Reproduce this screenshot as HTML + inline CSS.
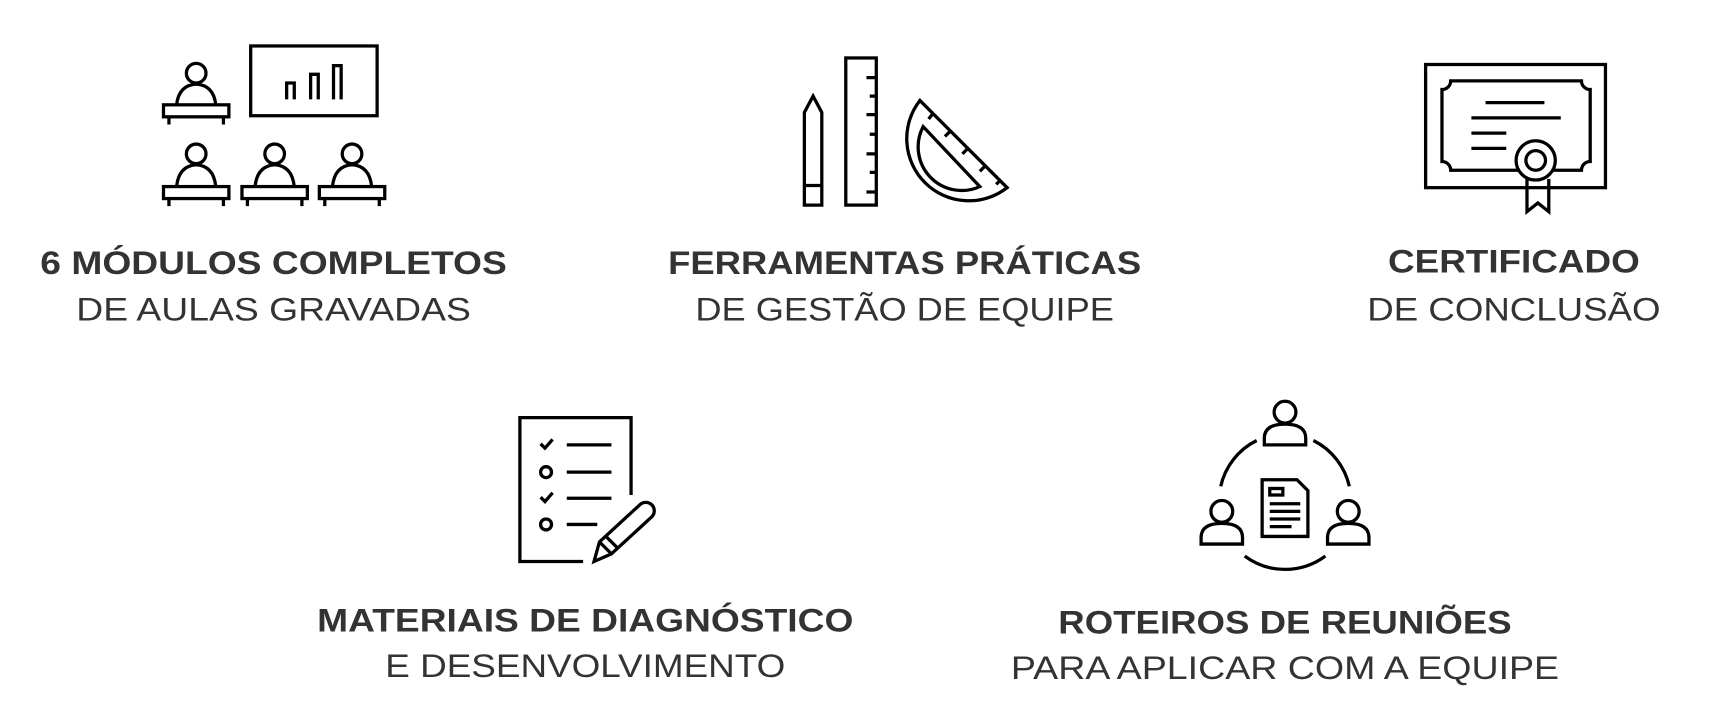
<!DOCTYPE html>
<html><head><meta charset="utf-8"><style>
html,body{margin:0;padding:0;background:#fff;}
svg{display:block;}
text{font-family:"Liberation Sans",sans-serif;fill:#333;text-anchor:middle;}
.b{font-weight:bold;font-size:30px;}
.r{font-size:30px;}
</style></head><body>
<svg width="1709" height="723" viewBox="0 0 1568 663" xmlns="http://www.w3.org/2000/svg">
<g fill="none" stroke="#000" stroke-width="3" stroke-linejoin="miter">
<!-- Icon 1 -->
<circle cx="180" cy="67" r="9"/>
<path d="M162 96 Q164 78 180 77 Q196 78 198 96"/>
<rect x="150" y="96" width="60" height="11"/>
<path d="M155 107V114M205 107V114"/>
<rect x="230" y="42" width="116" height="64"/>
<path d="M263 91V76H270V91M285 91V68H292V91M306 91V60H313V91"/>
<g id="st">
<circle cx="180" cy="141" r="9"/>
<path d="M162 171 Q164 152 180 151 Q196 152 198 171"/>
<rect x="150" y="171" width="60" height="11"/>
<path d="M155 182V189M205 182V189"/>
</g>
<use href="#st" x="72"/>
<use href="#st" x="143"/>
<!-- Icon 2 -->
<path d="M738 188V103L746 88L754 103V188ZM738 170H754"/>
<rect x="776" y="53" width="28" height="135"/>
<path d="M795 71H804M798 88H804M795 105H804M798 123H804M795 141H804M798 158H804M795 176H804"/>
<path d="M844 92 A57 57 0 0 0 924 172 Z"/>
<path d="M847 116 A40 40 0 0 0 899 171 Z"/>
<path d="M856 104L852 109M872 120L867 125M888 136L883 141M904 152L899 157M918 165L914 169"/>
<!-- Icon 3 -->
<rect x="1308" y="59" width="165" height="113"/>
<path d="M1331 74H1451A8 8 0 0 0 1459 82V148A8 8 0 0 0 1451 156H1331A8 8 0 0 0 1323 148V82A8 8 0 0 0 1331 74Z"/>
<path d="M1363 94H1417M1350 108H1432M1350 122H1382M1350 136H1382"/>
<circle cx="1409" cy="147" r="18" fill="#fff"/>
<circle cx="1409" cy="147" r="9"/>
<path d="M1401 164V194L1411 186L1421 194V164"/>
<!-- Icon 4 -->
<path d="M535 515H477V383H579V454"/>
<path d="M496 407L500 411L507 403M496 456L500 460L507 452"/>
<circle cx="501" cy="433" r="5"/><circle cx="501" cy="481" r="5"/>
<path d="M520 408H561M520 433H561M520 457H561M520 481H548"/>
<path d="M545 515L550 497L587 463A6 6 0 0 1 598 474L561 508Z M550 497L561 508 M556 492L566 502"/>
<!-- Icon 5 -->
<circle cx="1179" cy="378" r="10"/>
<path d="M1160 408V402Q1160 389 1179 389Q1198 389 1198 402V408Z"/>
<circle cx="1121" cy="469" r="10"/>
<path d="M1102 499V493Q1102 480 1121 480Q1140 480 1140 493V499Z"/>
<circle cx="1237" cy="469" r="10"/>
<path d="M1218 499V493Q1218 480 1237 480Q1256 480 1256 493V499Z"/>
<path d="M1153 404A62 62 0 0 0 1120 446M1205 404A62 62 0 0 1 1238 446M1142 510A62 62 0 0 0 1216 510"/>
<path d="M1158 440H1190L1200 450V492H1158Z"/>
<rect x="1165" y="448" width="12" height="6"/>
<path d="M1165 462H1193M1165 469H1193M1165 476H1193M1165 483H1185"/>
</g>
<text class="b" x="251" y="251" textLength="428" lengthAdjust="spacingAndGlyphs">6 MÓDULOS COMPLETOS</text>
<text class="r" x="251" y="294" textLength="362" lengthAdjust="spacingAndGlyphs">DE AULAS GRAVADAS</text>
<text class="b" x="830" y="251" textLength="434" lengthAdjust="spacingAndGlyphs">FERRAMENTAS PRÁTICAS</text>
<text class="r" x="830" y="294" textLength="384" lengthAdjust="spacingAndGlyphs">DE GESTÃO DE EQUIPE</text>
<text class="b" x="1389" y="250" textLength="231" lengthAdjust="spacingAndGlyphs">CERTIFICADO</text>
<text class="r" x="1389" y="294" textLength="269" lengthAdjust="spacingAndGlyphs">DE CONCLUSÃO</text>
<text class="b" x="537" y="579" textLength="492" lengthAdjust="spacingAndGlyphs">MATERIAIS DE DIAGNÓSTICO</text>
<text class="r" x="537" y="621" textLength="367" lengthAdjust="spacingAndGlyphs">E DESENVOLVIMENTO</text>
<text class="b" x="1179" y="581" textLength="416" lengthAdjust="spacingAndGlyphs">ROTEIROS DE REUNIÕES</text>
<text class="r" x="1179" y="623" textLength="503" lengthAdjust="spacingAndGlyphs">PARA APLICAR COM A EQUIPE</text>
</svg>
</body></html>
